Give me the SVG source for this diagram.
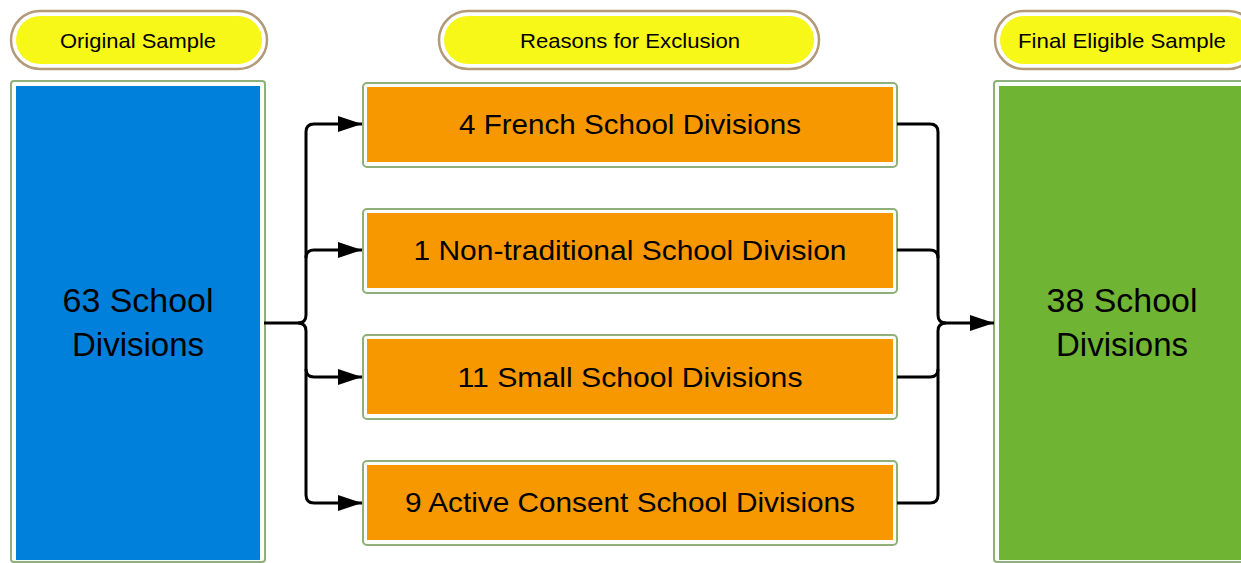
<svg xmlns="http://www.w3.org/2000/svg" width="1241" height="563" viewBox="0 0 1241 563">
  <defs>
    <marker id="arrow" viewBox="0 0 24 16" refX="24" refY="8" markerWidth="24" markerHeight="16" markerUnits="userSpaceOnUse" orient="auto">
      <path d="M0,0 L24,8 L0,16 Z" fill="#000"/>
    </marker>
  </defs>
  <style>
    .pill-frame { fill: #ffffff; stroke: #b39a78; stroke-width: 2.5; }
    .pill { fill: #f7f718; }
    .pill-text { font-family: "Liberation Sans", Arial, sans-serif; font-size: 21px; fill: #000; text-anchor: middle; }
    .frame { fill: #fbfdf9; stroke: #8fb07a; stroke-width: 2; }
    .blue { fill: #007fdb; }
    .green { fill: #70b433; }
    .orange { fill: #f79800; }
    .big { font-family: "Liberation Sans", Arial, sans-serif; font-size: 33px; fill: #000; text-anchor: middle; }
    .mid { font-family: "Liberation Sans", Arial, sans-serif; font-size: 28px; fill: #000; text-anchor: middle; }
    .conn { fill: none; stroke: #000; stroke-width: 3; stroke-linejoin: round; }
  </style>

  <!-- column headers -->
  <g id="hdr-original">
    <rect class="pill-frame" x="11" y="11" width="256" height="58" rx="29"/>
    <rect class="pill" x="16" y="16" width="246" height="48" rx="24"/>
    <text class="pill-text" x="138" y="48" textLength="156" lengthAdjust="spacingAndGlyphs">Original Sample</text>
  </g>
  <g id="hdr-reasons">
    <rect class="pill-frame" x="439" y="11" width="380" height="58" rx="29"/>
    <rect class="pill" x="444" y="16" width="370" height="48" rx="24"/>
    <text class="pill-text" x="630" y="48" textLength="220" lengthAdjust="spacingAndGlyphs">Reasons for Exclusion</text>
  </g>
  <g id="hdr-final">
    <rect class="pill-frame" x="995" y="11" width="262" height="58" rx="29"/>
    <rect class="pill" x="1000" y="16" width="252" height="48" rx="24"/>
    <text class="pill-text" x="1122" y="48" textLength="208" lengthAdjust="spacingAndGlyphs">Final Eligible Sample</text>
  </g>

  <!-- original sample -->
  <g id="original">
    <rect class="frame" x="11" y="81" width="254" height="481" rx="3"/>
    <rect class="blue" x="16" y="86" width="244" height="474"/>
    <text class="big" x="138" y="312" textLength="151" lengthAdjust="spacingAndGlyphs">63 School</text>
    <text class="big" x="138" y="356" textLength="132" lengthAdjust="spacingAndGlyphs">Divisions</text>
  </g>

  <!-- exclusion reasons -->
  <g id="french">
    <rect class="frame" x="363" y="83" width="534" height="84" rx="4"/>
    <rect class="orange" x="367" y="87" width="526" height="75"/>
    <text class="mid" x="630" y="134" textLength="342" lengthAdjust="spacingAndGlyphs">4 French School Divisions</text>
  </g>
  <g id="nontraditional">
    <rect class="frame" x="363" y="209" width="534" height="84" rx="4"/>
    <rect class="orange" x="367" y="213" width="526" height="75"/>
    <text class="mid" x="630" y="260" textLength="433" lengthAdjust="spacingAndGlyphs">1 Non-traditional School Division</text>
  </g>
  <g id="small">
    <rect class="frame" x="363" y="335" width="534" height="84" rx="4"/>
    <rect class="orange" x="367" y="339" width="526" height="75"/>
    <text class="mid" x="630" y="387" textLength="345" lengthAdjust="spacingAndGlyphs">11 Small School Divisions</text>
  </g>
  <g id="consent">
    <rect class="frame" x="363" y="461" width="534" height="84" rx="4"/>
    <rect class="orange" x="367" y="465" width="526" height="75"/>
    <text class="mid" x="630" y="512" textLength="450" lengthAdjust="spacingAndGlyphs">9 Active Consent School Divisions</text>
  </g>

  <!-- final sample -->
  <g id="final">
    <rect class="frame" x="994" y="81" width="260" height="481" rx="3"/>
    <rect class="green" x="999" y="86" width="250" height="474"/>
    <text class="big" x="1122" y="312" textLength="151" lengthAdjust="spacingAndGlyphs">38 School</text>
    <text class="big" x="1122" y="356" textLength="132" lengthAdjust="spacingAndGlyphs">Divisions</text>
  </g>

  <!-- connectors -->
  <g id="connectors">
    <path class="conn" d="M264,323 H298 Q306,323 306,315 V132 Q306,124 314,124 H362" marker-end="url(#arrow)"/>
    <path class="conn" d="M306,258 Q306,250 314,250 H362" marker-end="url(#arrow)"/>
    <path class="conn" d="M298,323 Q306,323 306,331 V495 Q306,503 314,503 H362" marker-end="url(#arrow)"/>
    <path class="conn" d="M306,369 Q306,377 314,377 H362" marker-end="url(#arrow)"/>

    <path class="conn" d="M897,124 H930 Q938,124 938,132 V315 Q938,323 946,323 H994" marker-end="url(#arrow)"/>
    <path class="conn" d="M897,250 H930 Q938,250 938,258"/>
    <path class="conn" d="M946,323 Q938,323 938,331 V495 Q938,503 930,503 H897"/>
    <path class="conn" d="M897,377 H930 Q938,377 938,369"/>
  </g>
</svg>
